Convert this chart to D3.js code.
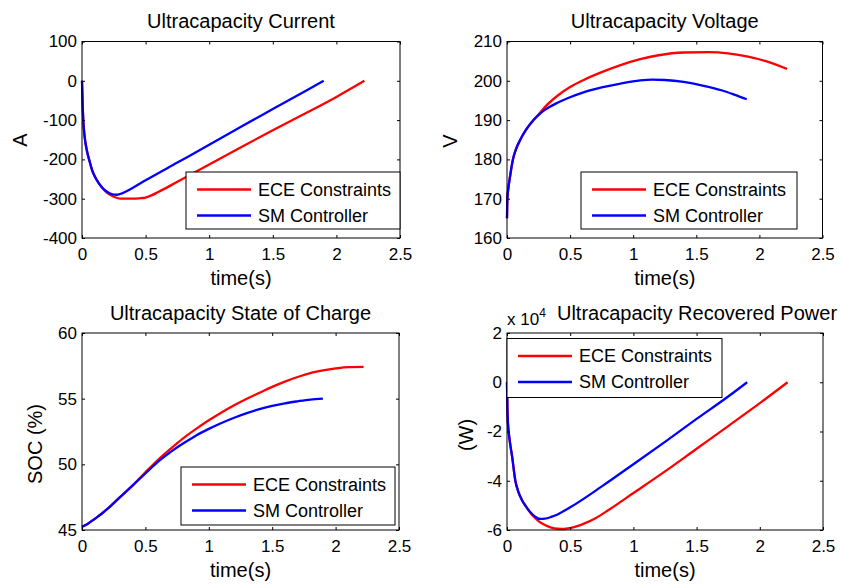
<!DOCTYPE html>
<html><head><meta charset="utf-8">
<script src="https://cdn.jsdelivr.net/npm/d3@7/dist/d3.min.js"></script>
<style>
body{margin:0;background:#fff;}
svg text{font-family:"Liberation Sans",Arial,sans-serif;fill:#000;}
</style></head>
<body><svg id="c" width="841" height="587"></svg>
<script>
// ---------- DATA ----------
const seriesNames = ["ECE Constraints", "SM Controller"];
const seriesColors = ["#ff0000", "#0000ff"];
const xTicks = [0, 0.5, 1, 1.5, 2, 2.5];

// Current (A)
const tCurrentECE = [0,0.005,0.01,0.02,0.04,0.06,0.08,0.1,0.13,0.16,0.2,0.25,0.3,0.35,0.4,0.45,0.5,0.55,0.6,0.75,1.0,1.25,1.5,1.75,2.0,2.22];
const currentECE  = [0,-60,-100,-140,-180,-205,-228,-243,-260,-273,-286,-295,-300,-300,-300,-299,-297,-291,-283,-257,-213,-169,-126,-84,-41,0];
const tCurrentSM  = [0,0.005,0.01,0.02,0.04,0.06,0.08,0.1,0.13,0.16,0.2,0.24,0.27,0.3,0.35,0.4,0.5,0.75,1.0,1.25,1.5,1.75,1.9];
const currentSM   = [0,-60,-100,-140,-180,-205,-228,-243,-260,-272,-283,-289,-290,-288,-281,-272,-253,-208,-163,-117,-72,-27,0];
const currentTicks = [100,0,-100,-200,-300,-400];

// Voltage (V)
const tVoltECE = [0,0.003,0.01,0.021,0.047,0.07,0.105,0.15,0.21,0.26,0.3,0.4,0.5,0.6,0.75,0.9,1.055,1.2,1.4,1.6,1.75,1.9,2.05,2.22];
const voltECE  = [165,170,172.5,175,180,182.5,185,187.5,190,191.8,193.3,196.2,198.4,200.1,202.2,204,205.5,206.5,207.2,207.3,207,206.2,205,203];
const tVoltSM  = [0,0.003,0.01,0.021,0.047,0.07,0.105,0.15,0.21,0.26,0.3,0.4,0.475,0.6,0.75,0.9,1.055,1.15,1.25,1.4,1.55,1.7,1.8,1.9];
const voltSM   = [165,170,172.5,175,180,182.5,185,187.5,190,191.6,192.6,194.4,195.5,197,198.3,199.3,200.1,200.3,200.2,199.7,198.8,197.6,196.5,195.3];
const voltTicks = [160,170,180,190,200,210];

// State of charge (%)
const tSocECE = [0,0.05,0.1,0.15,0.2,0.25,0.3,0.4,0.5,0.6,0.7,0.8,0.9,1.0,1.1,1.2,1.3,1.4,1.5,1.6,1.7,1.8,1.9,2.0,2.1,2.22];
const socECE  = [45.25,45.5,45.85,46.2,46.6,47.05,47.5,48.4,49.4,50.35,51.2,52.0,52.7,53.35,53.95,54.5,55.0,55.45,55.9,56.3,56.65,56.95,57.15,57.3,57.4,57.42];
const tSocSM  = [0,0.05,0.1,0.15,0.2,0.25,0.3,0.4,0.5,0.6,0.7,0.8,0.9,1.0,1.1,1.2,1.3,1.4,1.5,1.6,1.7,1.8,1.9];
const socSM   = [45.25,45.5,45.85,46.2,46.6,47.05,47.5,48.4,49.3,50.2,50.95,51.6,52.2,52.7,53.15,53.55,53.9,54.2,54.45,54.65,54.8,54.93,55.0];
const socTicks = [45,50,55,60];

// Recovered power (W)
const tPowECE = [0,0.003,0.008,0.013,0.025,0.04,0.066,0.09,0.12,0.15,0.185,0.22,0.26,0.3,0.35,0.4,0.45,0.5,0.55,0.6,0.7,0.8,1.0,1.25,1.5,1.75,2.0,2.22];
const powECE  = [0,-10000,-17000,-20000,-25000,-30000,-40000,-44500,-48000,-50500,-53000,-55000,-56800,-58000,-59000,-59500,-59600,-59200,-58500,-57600,-55200,-52000,-45000,-36200,-27000,-17800,-8500,0];
const tPowSM  = [0,0.003,0.008,0.013,0.025,0.04,0.066,0.09,0.12,0.15,0.185,0.22,0.264,0.3,0.35,0.4,0.5,0.75,1.0,1.25,1.5,1.75,1.9];
const powSM   = [0,-10000,-17000,-20000,-25000,-30000,-40000,-44500,-48000,-50400,-52800,-54500,-55500,-55400,-54700,-53700,-50800,-42300,-33300,-24200,-14900,-5800,0];
const powTicks = [20000,0,-20000,-40000,-60000];

// ---------- LAYOUT ----------
const panels = [
  {x0:82, y0:41.5, w:318, h:196.5, title:"Ultracapacity Current", ylabel:"A", ylab:[20,140],
   yDomain:[-400,100], yTicks:currentTicks, fmt:d=>d,
   series:[[tCurrentECE,currentECE],[tCurrentSM,currentSM]],
   legend:{x:186,y:172,w:214,h:57}},
  {x0:507, y0:41.5, w:315.5, h:196.5, title:"Ultracapacity Voltage", ylabel:"V", ylab:[450,141],
   yDomain:[160,210], yTicks:voltTicks, fmt:d=>d,
   series:[[tVoltECE,voltECE],[tVoltSM,voltSM]],
   legend:{x:581,y:172,w:216,h:57}},
  {x0:82, y0:333, w:317, h:197, title:"Ultracapacity State of Charge", ylabel:"SOC (%)", ylab:[35,444],
   yDomain:[45,60], yTicks:socTicks, fmt:d=>d,
   series:[[tSocECE,socECE],[tSocSM,socSM]],
   legend:{x:181,y:467,w:214,h:58}},
  {x0:507, y0:333, w:316, h:197, title:"Ultracapacity Recovered Power", titleX:697, ylabel:"(W)", ylab:[466,435],
   yDomain:[-60000,20000], yTicks:powTicks, fmt:d=>d/10000, exponent:true,
   series:[[tPowECE,powECE],[tPowSM,powSM]],
   legend:{x:507,y:338.5,w:215,h:59}}
];

const svg = d3.select("#c");
svg.append("rect").attr("width",841).attr("height",587).attr("fill","#fff");

panels.forEach(p => {
  const x = d3.scaleLinear().domain([0,2.5]).range([p.x0, p.x0+p.w]);
  const y = d3.scaleLinear().domain(p.yDomain).range([p.y0+p.h, p.y0]);
  const g = svg.append("g");

  // lines
  const line = d3.line().x(d=>x(d[0])).y(d=>y(d[1])).curve(d3.curveMonotoneX);
  p.series.forEach((s,i) => {
    const pts = s[0].map((t,k)=>[t, s[1][k]]);
    g.append("path").attr("d", line(pts)).attr("fill","none")
      .attr("stroke", seriesColors[i]).attr("stroke-width", 2.3);
  });

  // axes
  const ax = g.append("g");
  const bottom = ax.append("g").attr("transform",`translate(0,${p.y0+p.h})`)
    .call(d3.axisBottom(x).tickValues(xTicks).tickSizeInner(-3).tickSizeOuter(0).tickPadding(10).tickFormat(d=>d));
  const top = ax.append("g").attr("transform",`translate(0,${p.y0})`)
    .call(d3.axisTop(x).tickValues(xTicks).tickSizeInner(-3).tickSizeOuter(0).tickFormat(""));
  const left = ax.append("g").attr("transform",`translate(${p.x0},0)`)
    .call(d3.axisLeft(y).tickValues(p.yTicks).tickSizeInner(-3).tickSizeOuter(0).tickPadding(5).tickFormat(p.fmt));
  const right = ax.append("g").attr("transform",`translate(${p.x0+p.w},0)`)
    .call(d3.axisRight(y).tickValues(p.yTicks).tickSizeInner(-3).tickSizeOuter(0).tickFormat(""));
  [bottom,top,left,right].forEach(a => {
    a.attr("font-size",17).attr("font-family","Liberation Sans, Arial, sans-serif");
    a.select(".domain").remove();
    a.selectAll("line").attr("stroke","#000");
    a.selectAll("text").attr("fill","#000").attr("font-size",17);
  });
  g.append("rect").attr("x",p.x0).attr("y",p.y0).attr("width",p.w).attr("height",p.h)
    .attr("fill","none").attr("stroke","#000").attr("stroke-width",1);

  // title
  g.append("text").attr("x", p.titleX || (p.x0+p.w/2)).attr("y", p.y0-13.5)
    .attr("text-anchor","middle").attr("font-size",20).text(p.title);
  // x label
  g.append("text").attr("x", p.x0+p.w/2).attr("y", p.y0+p.h+47)
    .attr("text-anchor","middle").attr("font-size",20).text("time(s)");
  // y label
  g.append("text").attr("transform",`translate(${p.ylab[0]},${p.ylab[1]}) rotate(-90)`)
    .attr("text-anchor","middle").attr("dy","0.35em").attr("font-size",20).text(p.ylabel);

  if (p.exponent) {
    const e = g.append("text").attr("x", p.x0).attr("y", p.y0-8).attr("font-size",17);
    e.append("tspan").text("x 10");
    e.append("tspan").attr("dy",-8).attr("font-size",12).text("4");
  }

  // legend
  const L = p.legend;
  const lg = g.append("g");
  lg.append("rect").attr("x",L.x).attr("y",L.y).attr("width",L.w).attr("height",L.h)
    .attr("fill","#fff").attr("stroke","#000").attr("stroke-width",1);
  seriesNames.forEach((n,i) => {
    const cy = L.y + 17.5 + i*26;
    lg.append("line").attr("x1",L.x+11).attr("x2",L.x+65).attr("y1",cy).attr("y2",cy)
      .attr("stroke",seriesColors[i]).attr("stroke-width",2.3);
    lg.append("text").attr("x",L.x+72).attr("y",cy).attr("dy","0.35em").attr("font-size",18).text(n);
  });
});
</script></body></html>
